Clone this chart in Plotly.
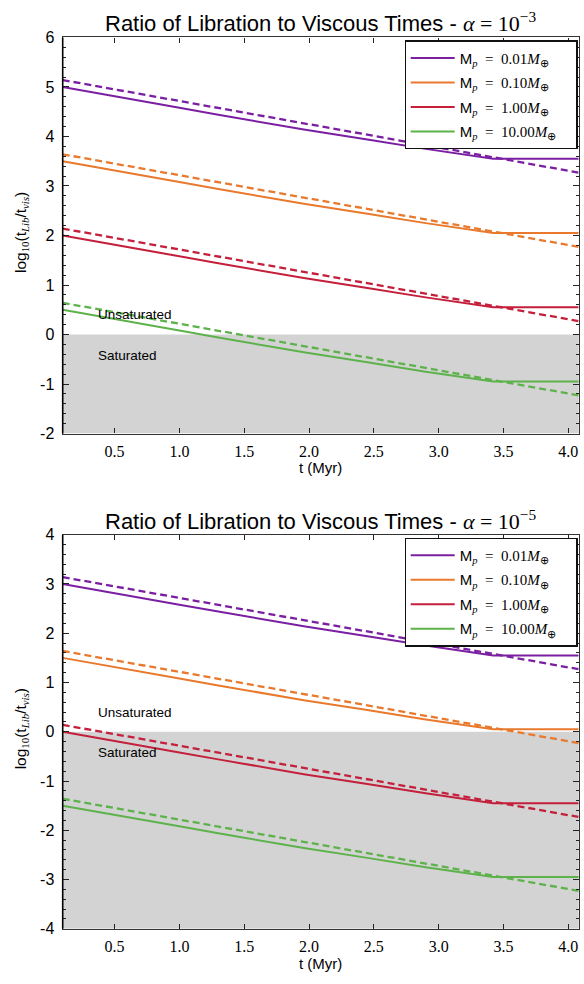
import plotly.graph_objects as go

# Time grid of the model runs (Myr) and end points of the linear fits
t_model = [0.1, 0.35, 0.65, 1.0, 1.3, 1.6, 1.96, 2.45, 2.9, 3.42, 4.08]
t_fit = [0.1, 4.08]

mass_labels = ["0.01", "0.10", "1.00", "10.00"]
colors = ["#7b1fa2", "#e8792d", "#c41f3b", "#5db24b"]

# log10(t_Lib / t_vis), alpha = 1e-3
ratio_a3_m001 = [5.00, 4.88, 4.74, 4.58, 4.44, 4.30, 4.14, 3.94, 3.75, 3.55, 3.55]
ratio_a3_m010 = [3.50, 3.38, 3.24, 3.08, 2.94, 2.80, 2.64, 2.44, 2.25, 2.05, 2.05]
ratio_a3_m100 = [2.00, 1.88, 1.74, 1.58, 1.44, 1.30, 1.14, 0.94, 0.75, 0.55, 0.55]
ratio_a3_m1000 = [0.50, 0.38, 0.24, 0.08, -0.06, -0.20, -0.36, -0.56, -0.75, -0.95, -0.95]

fit_a3_m001 = [5.14, 3.27]
fit_a3_m010 = [3.64, 1.77]
fit_a3_m100 = [2.14, 0.27]
fit_a3_m1000 = [0.64, -1.23]

# log10(t_Lib / t_vis), alpha = 1e-5
ratio_a5_m001 = [3.00, 2.88, 2.74, 2.58, 2.44, 2.30, 2.14, 1.94, 1.75, 1.55, 1.55]
ratio_a5_m010 = [1.50, 1.38, 1.24, 1.08, 0.94, 0.80, 0.64, 0.44, 0.25, 0.05, 0.05]
ratio_a5_m100 = [0.00, -0.12, -0.26, -0.42, -0.56, -0.70, -0.86, -1.06, -1.25, -1.45, -1.45]
ratio_a5_m1000 = [-1.50, -1.62, -1.76, -1.92, -2.06, -2.20, -2.36, -2.56, -2.75, -2.95, -2.95]

fit_a5_m001 = [3.14, 1.27]
fit_a5_m010 = [1.64, -0.23]
fit_a5_m100 = [0.14, -1.73]
fit_a5_m1000 = [-1.36, -3.23]

x_ticks = [0.5, 1.0, 1.5, 2.0, 2.5, 3.0, 3.5, 4.0]
y_ticks_a3 = [-2, -1, 0, 1, 2, 3, 4, 5, 6]
y_ticks_a5 = [-4, -3, -2, -1, 0, 1, 2, 3, 4]

SANS = "Liberation Sans"
SERIF = "Liberation Serif"

W, H = 584, 984
px_left, px_right = 62.7, 578.7
panels = [
    dict(top=30, bottom=433, yrange=[-2, 6], yticks=y_ticks_a3, alpha="3",
         ratios=[ratio_a3_m001, ratio_a3_m010, ratio_a3_m100, ratio_a3_m1000],
         fits=[fit_a3_m001, fit_a3_m010, fit_a3_m100, fit_a3_m1000]),
    dict(top=536, bottom=937, yrange=[-4, 4], yticks=y_ticks_a5, alpha="5",
         ratios=[ratio_a5_m001, ratio_a5_m010, ratio_a5_m100, ratio_a5_m1000],
         fits=[fit_a5_m001, fit_a5_m010, fit_a5_m100, fit_a5_m1000]),
]


def ypaper(px):
    return 1 - px / H


def legend_text(m):
    # en spaces keep the wider math spacing around "=" and pad the right edge
    return (f'<span style="font-family:{SANS}">M</span><sub><i>p</i></sub>'
            f'\u2002=\u2002{m}<i>M</i><sub>⊕</sub>\u2003')


fig = go.Figure()
layout = dict(width=W, height=H, margin=dict(l=0, r=0, t=0, b=0),
              paper_bgcolor="white", plot_bgcolor="white", showlegend=True,
              shapes=[], annotations=[])

for i, p in enumerate(panels):
    xa = "x" if i == 0 else "x2"
    ya = "y" if i == 0 else "y2"
    leg = "legend" if i == 0 else "legend2"
    for k in range(4):
        fig.add_trace(go.Scatter(
            x=t_model, y=p["ratios"][k], mode="lines", xaxis=xa, yaxis=ya,
            line=dict(color=colors[k], width=2), name=legend_text(mass_labels[k]),
            legend=leg, legendgroup=f"{leg}{k}"))
        fig.add_trace(go.Scatter(
            x=t_fit, y=p["fits"][k], mode="lines", xaxis=xa, yaxis=ya,
            line=dict(color=colors[k], width=2.3, dash="7px,4px"),
            showlegend=False, legend=leg, legendgroup=f"{leg}{k}"))

    dom_y = [ypaper(p["bottom"]), ypaper(p["top"])]
    axis_common = dict(showline=True, linecolor="#333", linewidth=1.3, mirror="ticks",
                       ticks="inside", tickcolor="#222", showgrid=False, zeroline=False)
    layout["xaxis" if i == 0 else "xaxis2"] = dict(
        axis_common, domain=[px_left / W, px_right / W], range=[0.1, 4.08],
        anchor=ya, tickvals=x_ticks, ticktext=[f"{v:.1f}" for v in x_ticks],
        ticklen=5, tickfont=dict(family=SERIF, size=16, color="black"),
        ticklabelstandoff=3)
    layout["yaxis" if i == 0 else "yaxis2"] = dict(
        axis_common, domain=dom_y, range=p["yrange"], anchor=xa,
        tickvals=p["yticks"], ticktext=[str(v) for v in p["yticks"]],
        ticklen=6, tickfont=dict(family=SANS, size=16, color="black"),
        ticklabelstandoff=4,
        minor=dict(ticks="inside", ticklen=3, dtick=0.2, tickcolor="#222"))

    # saturated region below zero
    layout["shapes"].append(dict(
        type="rect", xref=f"{xa} domain", yref=ya, x0=0, x1=1,
        y0=p["yrange"][0], y1=0, fillcolor="#d3d3d3", line=dict(width=0),
        layer="below"))
    # darker left spine
    layout["shapes"].append(dict(
        type="line", xref=f"{xa} domain", yref=f"{ya} domain", x0=0, x1=0,
        y0=0, y1=1, line=dict(color="black", width=1.6)))

    layout["annotations"] += [
        dict(text=("Ratio of Libration to Viscous Times - "
                   f'<span style="font-family:{SERIF}"><i>α</i> = 10<sup>−{p["alpha"]}</sup></span>'),
             xref="paper", yref="paper", x=(px_left + px_right) / 2 / W,
             y=ypaper(p["top"]), xanchor="center", yanchor="bottom", yshift=-1,
             showarrow=False, font=dict(family=SANS, size=22, color="black")),
        dict(text="t (Myr)", xref="paper", yref="paper",
             x=(px_left + px_right) / 2 / W, y=ypaper(p["bottom"] + 35),
             xanchor="center", yanchor="middle", showarrow=False,
             font=dict(family=SANS, size=15, color="black")),
        dict(text=(f'log<sub><span style="font-family:{SERIF}">10</span></sub>'
                   f'(t<sub><span style="font-family:{SERIF}"><i>Lib</i></span></sub>'
                   f'/t<sub><span style="font-family:{SERIF}"><i>vis</i></span></sub>)'),
             xref="paper", yref="paper", x=21.5 / W,
             y=ypaper((p["top"] + p["bottom"]) / 2 - 3), textangle=-90,
             xanchor="center", yanchor="middle", showarrow=False,
             font=dict(family=SANS, size=15.5, color="black")),
        dict(text="Unsaturated", xref=xa, yref=ya, x=0.356, y=0.40,
             xanchor="left", yanchor="middle", showarrow=False,
             font=dict(family=SANS, size=13.5, color="black")),
        dict(text="Saturated", xref=xa, yref=ya, x=0.356, y=-0.43,
             xanchor="left", yanchor="middle", showarrow=False,
             font=dict(family=SANS, size=13.5, color="black")),
    ]

    layout[leg] = dict(
        x=577.5 / W, xanchor="right", y=ypaper(p["top"] + 3), yanchor="top",
        bgcolor="white", bordercolor="#111", borderwidth=1.2,
        font=dict(family=SERIF, size=15, color="black"),
        tracegroupgap=2, itemwidth=44)

fig.update_layout(**layout)
fig.write_html("out.html")
